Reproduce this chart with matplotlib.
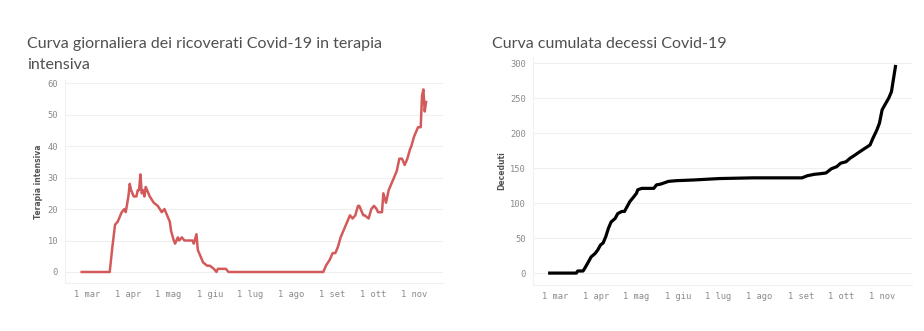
import matplotlib.pyplot as plt
import pandas as pd

# dati (2020)
date_ti = ["02-26", "03-18", "03-20", "03-22", "03-24", "03-26", "03-27", "03-29", "03-30",
           "04-01", "04-02", "04-03", "04-05", "04-07", "04-08", "04-09", "04-10", "04-11",
           "04-12", "04-13", "04-14", "04-15", "04-17", "04-20", "04-23", "04-26", "04-28",
           "04-30", "05-02", "05-03", "05-05", "05-06", "05-08", "05-09", "05-11", "05-13",
           "05-15", "05-19", "05-20", "05-22", "05-23", "05-25", "05-27", "05-30", "06-01",
           "06-04", "06-06", "06-07", "06-11", "06-13", "06-15", "08-25", "08-27", "08-30",
           "09-01", "09-03", "09-05", "09-07", "09-09", "09-11", "09-14", "09-16", "09-18",
           "09-20", "09-21", "09-24", "09-25", "09-28", "09-30", "10-02", "10-04", "10-05",
           "10-08", "10-09", "10-11", "10-13", "10-15", "10-17", "10-19", "10-21", "10-23",
           "10-25", "10-27", "10-29", "10-30", "11-01", "11-03", "11-04", "11-06", "11-07",
           "11-08", "11-09", "11-10"]
terapia_intensiva = [0, 0, 8, 15, 16, 18, 19, 20, 19,
                     24, 28, 26, 24, 24, 26, 26, 31, 25,
                     26, 24, 27, 26, 24, 22, 21, 19, 20,
                     18, 16, 13, 10, 9, 11, 10, 11, 10,
                     10, 10, 9, 12, 7, 5, 3, 2, 2,
                     1, 0, 1, 1, 1, 0, 0, 2, 4,
                     6, 6, 8, 11, 13, 15, 18, 17, 18,
                     21, 21, 18, 18, 17, 20, 21, 20, 19,
                     19, 25, 22, 26, 28, 30, 32, 36, 36,
                     34, 36, 39, 40, 43, 45, 46, 46, 56,
                     58, 51, 54]

date_dec = ["02-26", "03-17", "03-18", "03-22", "03-23", "03-26", "03-28", "03-31", "04-02",
            "04-04", "04-06", "04-08", "04-10", "04-12", "04-15", "04-17", "04-20", "04-22",
            "04-24", "04-26", "04-29", "05-01", "05-02", "05-05", "05-14", "05-16", "05-19",
            "05-22", "05-25", "05-31", "06-13", "07-02", "07-27", "09-02", "09-06", "09-11",
            "09-16", "09-20", "09-24", "09-28", "10-01", "10-05", "10-08", "10-12", "10-15",
            "10-19", "10-23", "10-25", "10-28", "10-30", "11-01", "11-03", "11-06", "11-08",
            "11-11"]
deceduti = [0, 0, 3, 3, 6, 16, 23, 28, 33,
            40, 43, 52, 64, 73, 78, 85, 88, 88,
            95, 102, 109, 114, 119, 121, 121, 126, 127,
            129, 131, 132, 133, 135, 136, 136, 139, 141,
            142, 143, 149, 152, 157, 159, 164, 169, 173,
            178, 183, 192, 204, 214, 233, 240, 250, 259,
            295]

mesi = ["03-01", "04-01", "05-01", "06-01", "07-01", "08-01", "09-01", "10-01", "11-01"]
etichette_mesi = ["1 mar", "1 apr", "1 mag", "1 giu", "1 lug", "1 ago", "1 set", "1 ott", "1 nov"]

def giorni(lista):
    return pd.to_datetime(["2020-" + s for s in lista])

inizio = pd.Timestamp("2020-03-01")
tick_font = dict(family="DejaVu Sans Mono", size=6.3, color="#8a8a8a")

def stile(ax, yticks, ylabel, xlim):
    ax.set_xlim(inizio + pd.Timedelta(days=xlim[0]), inizio + pd.Timedelta(days=xlim[1]))
    ax.set_yticks(yticks)
    ax.set_xticks(giorni(mesi))
    ax.set_xticklabels(etichette_mesi, fontdict=tick_font)
    ax.set_yticklabels([str(v) for v in yticks], fontdict=tick_font)
    ax.tick_params(length=0, pad=5)
    ax.grid(axis="y", color="#efefef", linewidth=0.8)
    ax.set_axisbelow(True)
    for s in ["top", "right"]:
        ax.spines[s].set_visible(False)
    for s in ["left", "bottom"]:
        ax.spines[s].set_color("#f0f0f0")
        ax.spines[s].set_linewidth(0.8)
    ax.set_ylabel(ylabel, fontsize=5.5, fontweight="bold", color="#555555", labelpad=3)

fig = plt.figure(figsize=(9.24, 3.31), dpi=100)

ax1 = fig.add_axes([65 / 924, 1 - 283 / 331, 378 / 924, 203 / 331])
ax1.plot(giorni(date_ti), terapia_intensiva, color="#d35a5a", linewidth=1.8)
ax1.set_ylim(-3.5, 61)
stile(ax1, [0, 10, 20, 30, 40, 50, 60], "Terapia intensiva", (-16.5, 266.7))

ax2 = fig.add_axes([533 / 924, 1 - 285 / 331, 379 / 924, 228 / 331])
ax2.plot(giorni(date_dec), deceduti, color="black", linewidth=2.3)
ax2.set_ylim(-17, 308.6)
stile(ax2, [0, 50, 100, 150, 200, 250, 300], "Deceduti", (-16.5, 267.4))

titolo = dict(fontsize=11.5, color="#505050", family="Lato", fontweight="normal")
fig.text(27 / 924, 1 - 48 / 331, "Curva giornaliera dei ricoverati Covid-19 in terapia", **titolo)
fig.text(27 / 924, 1 - 69 / 331, "intensiva", **titolo)
fig.text(492 / 924, 1 - 48 / 331, "Curva cumulata decessi Covid-19", **titolo)

fig.savefig("out.png", dpi=100, facecolor="white")
